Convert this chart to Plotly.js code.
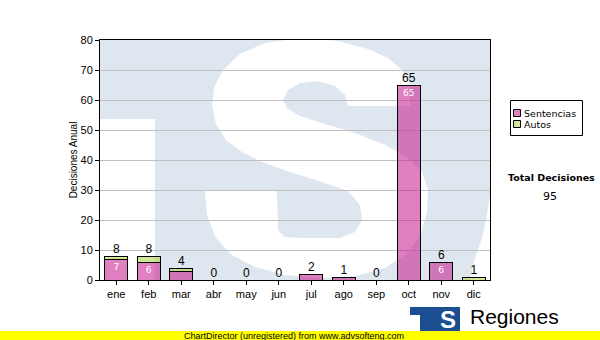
<!DOCTYPE html>
<html><head><meta charset="utf-8">
<script src="https://cdn.plot.ly/plotly-3.0.1.min.js"></script>
<style>html,body{margin:0;padding:0;background:#fff}</style>
</head><body>
<div id="chart" style="width:600px;height:340px"></div>
<script>
// ---- data ----
const months = ['ene','feb','mar','abr','may','jun','jul','ago','sep','oct','nov','dic'];
const sentencias = [7,6,3,0,0,0,2,1,0,65,6,0];
const autos = [1,2,1,0,0,0,0,0,0,0,0,1];
const seriesNames = ['Sentencias','Autos'];
const seriesColors = ['rgba(199,24,140,0.55)','rgba(170,213,64,0.55)'];
const legendSwatch = ['#e080c0','#d0e898'];
const yTicks = [0,10,20,30,40,50,60,70,80];
const yTitle = 'Decisiones Anual';
const totalTitle = 'Total Decisiones';
const brandText = 'Regiones';
const footerText = 'ChartDirector (unregistered) from www.advsofteng.com';

const totals = sentencias.map((v,i)=>v+autos[i]);
const grandTotal = totals.reduce((a,b)=>a+b,0);
const innerText = sentencias.map(v => v >= 5 ? String(v) : '');

// ---- geometry helpers (pixel -> paper), plot area 100..490 x 40..280 ----
const L=100, R=110, T=40, B=60, W=600, H=340;
const PW=W-L-R, PH=H-T-B;
const px = x => (x-L)/PW;
const py = y => (H-B-y)/PH;
const pathOf = pts => 'M' + pts.map(p => px(p[0]).toFixed(4)+','+py(p[1]).toFixed(4)).join(' L') + ' Z';
const rect = (x0,y0,x1,y1,color,layer,line) => ({type:'rect',xref:'paper',yref:'paper',x0:px(x0),x1:px(x1),y0:py(y0),y1:py(y1),fillcolor:color,line:line||{width:0},layer:layer||'below'});
const note = (x,y,text,font,xa) => ({xref:'paper',yref:'paper',x:px(x),y:py(y),xanchor:xa||'center',yanchor:'middle',text:text,showarrow:false,font:font});

const LB = '#dee7f0';
const sOutline = [
  [410,106],[410,85],[402,70],[388,58],[368,49],[338,41],[300,38],[265,43],[240,54],[223,70],[214,88],[212,105],
  [216,124],[226,140],[242,152],[262,162],[290,172],[322,182],[348,191],[360,205],[362,220],[355,232],[340,238],
  [300,238],[285,237],[278,230],[277,191],[205,191],[207,215],[216,238],[232,255],[255,267],[285,275],[320,278],
  [355,276],[385,268],[405,255],[420,236],[427,212],[428,190],[422,172],[408,158],[385,145],[355,133],[325,124],
  [300,116],[287,108],[283,100],[288,90],[300,83],[318,81],[335,86],[345,95],[348,106]
];
const corner = [[490,195],[487,215],[482,238],[475,258],[470,280],[490,280]];

const shapes = [
  rect(100,40,490,280,LB),
  rect(100,119,155,280,'#ffffff'),
  {type:'path',xref:'paper',yref:'paper',path:pathOf(sOutline),fillcolor:'#ffffff',line:{width:0},layer:'below'},
  {type:'path',xref:'paper',yref:'paper',path:pathOf(corner),fillcolor:'#ffffff',line:{width:0},layer:'below'},
  // custom legend box and swatches
  rect(510.5,100.5,582.5,135.5,'#ffffff','below',{color:'#000',width:1}),
  rect(513.5,109.5,520.5,116.5,legendSwatch[0],'below',{color:'#000',width:1}),
  rect(513.5,120.5,520.5,127.5,legendSwatch[1],'below',{color:'#000',width:1}),
  // logo
  rect(410,307,437,315,'#1b4f91'),
  rect(420,307,437,331,'#1b4f91'),
  rect(437,307,460,331,'#1b4f91'),
  // footer bar
  rect(0,331,600,340,'#ffff00','above')
];

const data = [
  {type:'bar', name:seriesNames[0], x:months, y:sentencias,
   marker:{color:seriesColors[0], line:{color:'#000',width:1}},
   text:innerText, textposition:'inside', insidetextanchor:'end', textangle:0,
   textfont:{family:'DejaVu Sans', size:9, color:'#ffffff'}, hoverinfo:'skip', showlegend:false},
  {type:'bar', name:seriesNames[1], x:months, y:autos,
   marker:{color:seriesColors[1], line:{color:'#000',width:1}},
   textposition:'none', hoverinfo:'skip', showlegend:false},
  {type:'scatter', mode:'text', x:months, y:totals, text:totals.map(String),
   textposition:'top center', textfont:{family:'Liberation Sans', size:12, color:'#000'},
   showlegend:false, cliponaxis:false, hoverinfo:'skip'}
];

const layout = {
  width:W, height:H, margin:{l:L,r:R,t:T,b:B,pad:0,autoexpand:false},
  paper_bgcolor:'#ffffff', plot_bgcolor:'rgba(0,0,0,0)',
  barmode:'stack', bargap:0.28, showlegend:false,
  font:{family:'Liberation Sans', size:11, color:'#000'},
  xaxis:{type:'category', range:[-0.5,11.5], showgrid:false, ticks:'outside', ticklen:4, tickcolor:'#000',
         showline:true, linecolor:'#000', linewidth:1, mirror:true, tickfont:{size:11}, fixedrange:true, automargin:false},
  yaxis:{range:[0,80], tickvals:yTicks, showgrid:true, gridcolor:'#c0c0c0', gridwidth:1, zeroline:false,
         ticks:'outside', ticklen:4, tickcolor:'#000', showline:true, linecolor:'#000', linewidth:1, mirror:true,
         tickfont:{size:11}, title:{text:yTitle, font:{size:10}, standoff:1}, fixedrange:true, automargin:false},
  shapes:shapes,
  annotations:[
    note(522,113,seriesNames[0],{family:'DejaVu Sans',size:9.5,color:'#000'},'left'),
    note(522,124,seriesNames[1],{family:'DejaVu Sans',size:9.5,color:'#000'},'left'),
    note(551,177,'<b>'+totalTitle+'</b>',{family:'DejaVu Sans',size:9.5,color:'#000'}),
    note(550,196.5,String(grandTotal),{family:'DejaVu Sans',size:11,color:'#000'}),
    note(468,316,brandText,{family:'Liberation Sans',size:21,color:'#000'},'left'),
    note(448,319,'<b>S</b>',{family:'Liberation Sans',size:24,color:'#ffffff'}),
    note(294,335.5,footerText,{family:'Liberation Sans',size:9,color:'#000'})
  ]
};

Plotly.newPlot('chart', data, layout, {staticPlot:true, displayModeBar:false});
</script>
</body></html>
